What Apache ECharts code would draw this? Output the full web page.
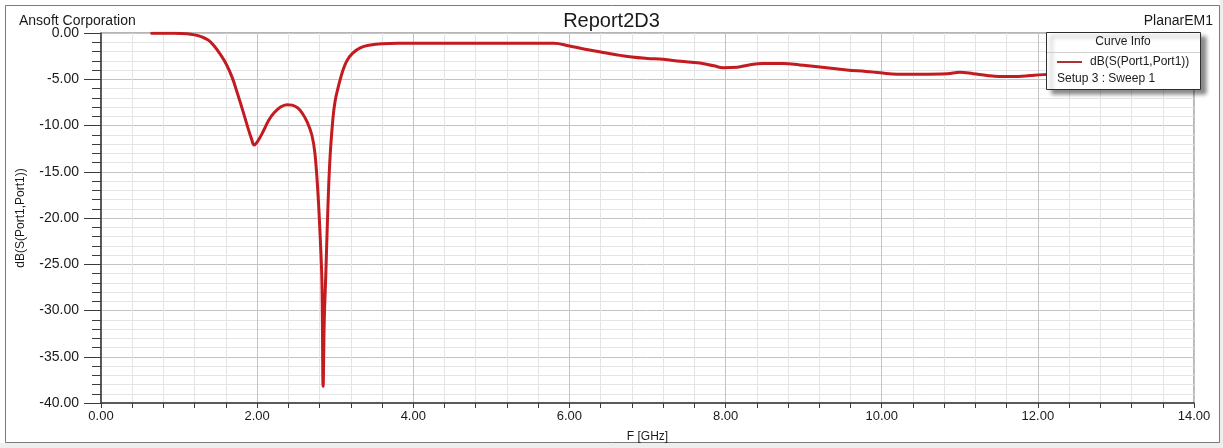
<!DOCTYPE html>
<html>
<head>
<meta charset="utf-8">
<title>Report2D3</title>
<script src="https://cdn.jsdelivr.net/npm/echarts@6/dist/echarts.min.js"></script>
<style>
  html, body { margin: 0; padding: 0; background: #ffffff; }
  #chart { width: 1223px; height: 448px; }
</style>
</head>
<body>
<div id="chart"></div>
<script>
// Return loss sweep dB(S(Port1,Port1)) versus frequency in GHz
const freqGHz = [
  0.65, 0.90, 1.10, 1.20, 1.30, 1.38, 1.45, 1.52, 1.60, 1.68,
  1.75, 1.82, 1.88, 1.93, 1.96, 2.00, 2.08, 2.15, 2.22, 2.30,
  2.38, 2.45, 2.52, 2.58, 2.64, 2.70, 2.74, 2.78, 2.81, 2.83,
  2.845, 2.86, 2.88, 2.90, 2.93, 2.97, 3.00, 3.04, 3.10, 3.15,
  3.22, 3.32, 3.45, 3.60, 3.80, 4.50, 5.00, 5.50, 5.80, 6.00,
  6.20, 6.40, 6.60, 6.80, 7.00, 7.20, 7.42, 7.67, 7.85, 7.97,
  8.15, 8.30, 8.48, 8.74, 8.95, 9.12, 9.35, 9.55, 9.80, 9.98,
  10.20, 10.50, 10.84, 11.00, 11.17, 11.35, 11.50, 11.75, 11.90, 12.07,
  12.40, 12.80, 13.20, 13.60, 14.00
];
const s11dB = [
  -0.02, -0.03, -0.08, -0.2, -0.45, -0.8, -1.4, -2.2, -3.3, -4.8,
  -6.6, -8.5, -10.2, -11.5, -12.1, -11.8, -10.6, -9.4, -8.6, -8.0,
  -7.75, -7.8, -8.1, -8.7, -9.6, -11.0, -13.0, -17.5, -22.5, -27.0,
  -38.2, -31.0, -26.0, -20.5, -14.0, -9.3, -7.3, -5.8, -4.0, -3.0,
  -2.2, -1.6, -1.3, -1.15, -1.1, -1.1, -1.1, -1.1, -1.1, -1.4,
  -1.75, -2.05, -2.35, -2.6, -2.75, -2.85, -3.05, -3.25, -3.55, -3.75,
  -3.7, -3.45, -3.3, -3.3, -3.45, -3.6, -3.8, -4.0, -4.15, -4.3,
  -4.45, -4.45, -4.4, -4.25, -4.4, -4.6, -4.7, -4.7, -4.6, -4.5,
  -4.4, -4.3, -4.2, -4.25, -4.2
];

const xTicks = { min: 0, max: 14, step: 2 };
const yTicks = { min: -40, max: 0, step: 5 };

const seriesName = 'dB(S(Port1,Port1))';
const sweepLabel = 'Setup 3 : Sweep 1';
const curveColor = '#c31b1f';
const font = '"Liberation Sans", Arial, sans-serif';

const points = freqGHz.map((f, i) => [f, s11dB[i]]);

// Curve info box, drawn on its own layer above the plot
const boxX = 1046, boxY = 32, boxW = 154, boxH = 57;
const infoZ = { zlevel: 1, z: 100 };

const chart = echarts.init(document.getElementById('chart'), null, { renderer: 'canvas' });

chart.setOption({
  animation: false,
  backgroundColor: '#ffffff',
  textStyle: { fontFamily: font },
  title: [
    { text: 'Report2D3', left: 'center', top: 6,
      textStyle: { fontFamily: font, fontSize: 20, fontWeight: 'normal', color: '#1a1a1a' } },
    { text: 'Ansoft Corporation', left: 14, top: 9,
      textStyle: { fontFamily: font, fontSize: 14, fontWeight: 'normal', color: '#1a1a1a' } },
    { text: 'PlanarEM1', right: 5, top: 9,
      textStyle: { fontFamily: font, fontSize: 14, fontWeight: 'normal', color: '#1a1a1a' } }
  ],
  grid: {
    left: 101, right: 29, top: 33, bottom: 41,
    show: true, borderColor: '#6b6b6b', borderWidth: 1
  },
  xAxis: {
    type: 'value',
    min: xTicks.min, max: xTicks.max, interval: xTicks.step,
    name: 'F [GHz]', nameLocation: 'middle', nameGap: 28,
    nameTextStyle: { fontFamily: font, fontSize: 12, color: '#1a1a1a' },
    axisLine: { show: true, onZero: false, lineStyle: { color: '#3a3a3a', width: 1.5 } },
    axisTick: { show: true, length: 5, lineStyle: { color: '#3a3a3a' } },
    minorTick: { show: true, splitNumber: 5, length: 5, lineStyle: { color: '#3a3a3a' } },
    axisLabel: { margin: 7, fontFamily: font, fontSize: 13, color: '#1a1a1a',
      formatter: v => v.toFixed(2) },
    splitLine: { show: true, lineStyle: { color: '#c4c4c4', width: 1 } },
    minorSplitLine: { show: true, lineStyle: { color: '#e4e4e4', width: 1 } }
  },
  yAxis: {
    type: 'value',
    min: yTicks.min, max: yTicks.max, interval: yTicks.step,
    name: seriesName, nameLocation: 'middle', nameGap: 74,
    nameTextStyle: { fontFamily: font, fontSize: 12, color: '#1a1a1a' },
    axisLine: { show: true, onZero: false, lineStyle: { color: '#3a3a3a', width: 1.5 } },
    axisTick: { show: true, length: 17, lineStyle: { color: '#3a3a3a' } },
    minorTick: { show: true, splitNumber: 5, length: 9, lineStyle: { color: '#3a3a3a' } },
    axisLabel: { margin: 22, fontFamily: font, fontSize: 14, color: '#1a1a1a',
      formatter: v => v.toFixed(2) },
    splitLine: { show: true, lineStyle: { color: '#c4c4c4', width: 1 } },
    minorSplitLine: { show: true, lineStyle: { color: '#e4e4e4', width: 1 } }
  },
  series: [{
    name: seriesName,
    type: 'line',
    data: points,
    showSymbol: false,
    smooth: 0.4,
    lineStyle: { color: curveColor, width: 3, join: 'round', cap: 'round' },
    z: 5
  }],
  graphic: [
    // outer frame of the report window
    { type: 'rect', silent: true, z: 0,
      shape: { x: 5.5, y: 5.5, width: 1214, height: 437 },
      style: { fill: 'none', stroke: '#7a7a7a', lineWidth: 1 } },
    { type: 'rect', silent: true, z: 0,
      shape: { x: 0, y: 443, width: 1223, height: 5 },
      style: { fill: '#eeeeee' } },
    { type: 'rect', silent: true, z: 0,
      shape: { x: 1220, y: 0, width: 3, height: 448 },
      style: { fill: '#eeeeee' } },
    // curve info box
    Object.assign({ type: 'rect', silent: true,
      shape: { x: boxX + 0.5, y: boxY + 0.5, width: boxW, height: boxH },
      style: { fill: '#ffffff', stroke: '#2e2e2e', lineWidth: 1,
        shadowBlur: 4, shadowOffsetX: 5, shadowOffsetY: 4, shadowColor: 'rgba(0,0,0,0.45)' } }, infoZ),
    Object.assign({ type: 'text', silent: true, x: boxX + 77, y: boxY + 10,
      style: { text: 'Curve Info', fontFamily: font, fontSize: 12, fill: '#1a1a1a',
        align: 'center', verticalAlign: 'middle' } }, infoZ),
    Object.assign({ type: 'line', silent: true,
      shape: { x1: boxX + 1, y1: boxY + 20.5, x2: boxX + boxW, y2: boxY + 20.5 },
      style: { stroke: '#cfcfcf', lineWidth: 1 } }, infoZ),
    Object.assign({ type: 'line', silent: true,
      shape: { x1: boxX + 11, y1: boxY + 30, x2: boxX + 36, y2: boxY + 30 },
      style: { stroke: '#a93434', lineWidth: 2 } }, infoZ),
    Object.assign({ type: 'text', silent: true, x: boxX + 44, y: boxY + 30,
      style: { text: seriesName, fontFamily: font, fontSize: 12, fill: '#1a1a1a',
        align: 'left', verticalAlign: 'middle' } }, infoZ),
    Object.assign({ type: 'text', silent: true, x: boxX + 11, y: boxY + 47,
      style: { text: sweepLabel, fontFamily: font, fontSize: 12, fill: '#1a1a1a',
        align: 'left', verticalAlign: 'middle' } }, infoZ)
  ]
});
</script>
</body>
</html>
